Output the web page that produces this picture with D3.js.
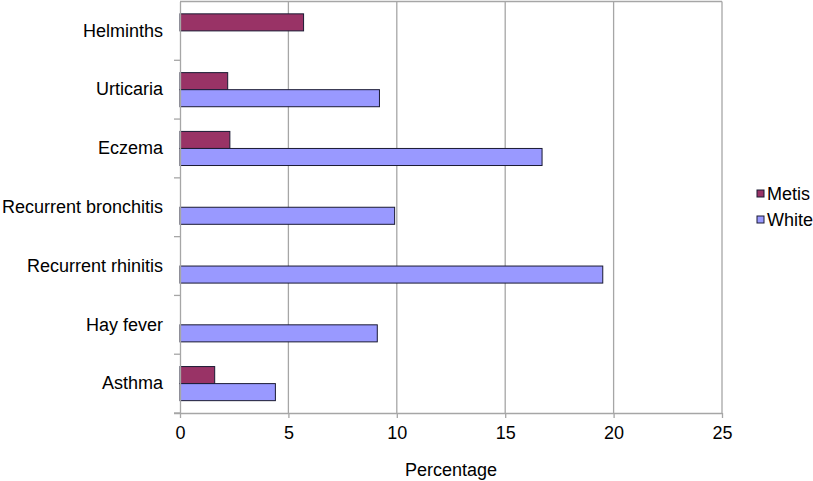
<!DOCTYPE html>
<html>
<head>
<meta charset="utf-8">
<script src="https://cdn.jsdelivr.net/npm/d3@7"></script>
<style>
  body { margin: 0; background: #fff; }
  svg { font-family: "Liberation Sans", Arial, sans-serif; }
</style>
</head>
<body>
<div id="chart"></div>
<script>
// categories top to bottom
const categories = ["Helminths", "Urticaria", "Eczema", "Recurrent bronchitis", "Recurrent rhinitis", "Hay fever", "Asthma"];
const seriesNames = ["Metis", "White"];
const metisValues = [5.7, 2.2, 2.3, 0, 0, 0, 1.6];
const whiteValues = [0, 9.2, 16.7, 9.9, 19.5, 9.1, 4.4];
const xTicks = [0, 5, 10, 15, 20, 25];

const colors = { Metis: "#993366", White: "#9999ff" };
const fontSize = 18;

const width = 813, height = 481;
const margin = { top: 1.5, right: 91, bottom: 68, left: 180 };
const iw = width - margin.left - margin.right;
const ih = height - margin.top - margin.bottom;

const svg = d3.select("#chart").append("svg")
    .attr("width", width)
    .attr("height", height);

const g = svg.append("g").attr("transform", `translate(${margin.left},${margin.top})`);

const x = d3.scaleLinear().domain([0, 25]).range([0, iw]);
const y = d3.scaleBand().domain(categories).range([0, ih]).paddingInner(0.42).paddingOuter(0.21);
const ySub = d3.scaleBand().domain(seriesNames).range([0, y.bandwidth()]);

// gridlines + frame
g.selectAll("line.grid")
    .data(xTicks.slice(1))
    .join("line")
    .attr("class", "grid")
    .attr("x1", d => x(d)).attr("x2", d => x(d))
    .attr("y1", 0).attr("y2", ih)
    .attr("stroke", "#a6a6a6").attr("stroke-width", 1.3);
g.append("line")
    .attr("x1", 0).attr("x2", iw).attr("y1", 0).attr("y2", 0)
    .attr("stroke", "#a6a6a6").attr("stroke-width", 1.3);

// bars
const rows = categories.map((c, i) => ({ cat: c, vals: [
    { s: "Metis", v: metisValues[i] },
    { s: "White", v: whiteValues[i] }
].filter(d => d.v > 0) }));

g.selectAll("g.row")
    .data(rows)
    .join("g")
    .attr("class", "row")
    .attr("transform", d => `translate(0,${y(d.cat)})`)
    .selectAll("rect")
    .data(d => d.vals)
    .join("rect")
    .attr("x", 0)
    .attr("y", d => ySub(d.s))
    .attr("width", d => x(d.v))
    .attr("height", ySub.bandwidth())
    .attr("fill", d => colors[d.s])
    .attr("stroke", "#1a1a33")
    .attr("stroke-width", 1);

// x axis
const xAxis = g.append("g")
    .attr("transform", `translate(0,${ih})`)
    .call(d3.axisBottom(x).tickValues(xTicks).tickSize(5).tickPadding(8));
xAxis.select(".domain").attr("stroke", "#a6a6a6").attr("stroke-width", 1.3)
    .attr("d", `M-6,0.5H${iw}`);
xAxis.selectAll(".tick line").attr("stroke", "#a6a6a6").attr("stroke-width", 1.3);
xAxis.selectAll("text").attr("font-size", fontSize).attr("fill", "#000")
    .attr("font-family", "Liberation Sans, Arial, sans-serif");

// y axis
const yAxis = g.append("g")
    .call(d3.axisLeft(y).tickSize(0).tickPadding(17));
yAxis.select(".domain").attr("stroke", "#a6a6a6").attr("stroke-width", 1.3);
yAxis.selectAll("text").attr("font-size", fontSize).attr("fill", "#000")
    .attr("font-family", "Liberation Sans, Arial, sans-serif");

// category separator ticks
const step = y.step();
const firstEdge = y(categories[0]) - y.paddingOuter() * step;
g.selectAll("line.ctick")
    .data(d3.range(1, categories.length + 1))
    .join("line")
    .attr("class", "ctick")
    .attr("x1", -6).attr("x2", 0)
    .attr("y1", d => firstEdge + step * d)
    .attr("y2", d => firstEdge + step * d)
    .attr("stroke", "#a6a6a6").attr("stroke-width", 1.3);

// axis title
g.append("text")
    .attr("x", iw / 2)
    .attr("y", ih + 63)
    .attr("text-anchor", "middle")
    .attr("font-size", fontSize)
    .text("Percentage");

// legend
const legend = svg.append("g").attr("transform", "translate(757,190)");
seriesNames.forEach((s, i) => {
    const lg = legend.append("g").attr("transform", `translate(0,${i * 26})`);
    lg.append("rect")
        .attr("width", 7).attr("height", 7)
        .attr("fill", colors[s])
        .attr("stroke", "#1a1a33").attr("stroke-width", 1);
    lg.append("text")
        .attr("x", 10).attr("y", 10)
        .attr("font-size", fontSize)
        .text(s);
});
</script>
</body>
</html>
